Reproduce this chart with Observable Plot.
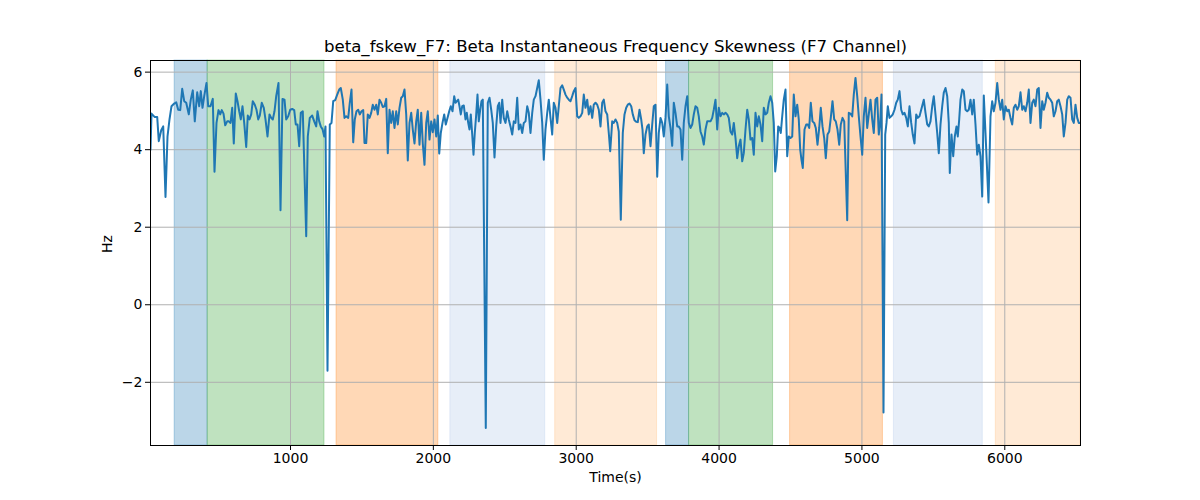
<!DOCTYPE html>
<html><head><meta charset="utf-8">
<script src="https://cdn.jsdelivr.net/npm/d3@7"></script>
<script src="https://cdn.jsdelivr.net/npm/@observablehq/plot@0.6"></script>
<style>body{margin:0;background:#fff} svg{font-family:"DejaVu Sans",sans-serif}</style>
</head><body><div id="chart"></div><script>
const chartTitle = "beta_fskew_F7: Beta Instantaneous Frequency Skewness (F7 Channel)";
const xLabel = "Time(s)";
const yLabel = "Hz";
const xTicks = [1000, 2000, 3000, 4000, 5000, 6000];
const yTicks = [-2, 0, 2, 4, 6];

const times = [20,27,50,67,78,95,109,125,139,153,167,186,200,214,228,242,256,270,288,302,316,330,347,361,372,384,396,412,424,440,456,468,482,496,508,519,531,543,557,568,580,592,603,617,629,641,652,664,676,690,701,713,725,736,750,762,774,785,799,813,825,839,853,865,876,888,900,916,930,944,958,970,984,998,1012,1026,1037,1049,1061,1072,1086,
1110,1121,1135,1152,1166,1180,1189,1201,1212,1224,1236,1245,1259,1275,1287,1299,1313,1327,1341,1352,1366,1378,1390,1404,1415,1427,1439,1450,1462,1474,1485,1497,1509,1518,1530,1541,1553,1565,1576,1588,1600,1611,1623,1635,1646,1658,1670,1681,1693,1705,1716,1728,1740,1751,1763,1775,1786,1798,1810,1821,1833,1845,1856,1868,1880,1891,1903,1915,1926,1938,1950,1961,1973,1985,1996,2008,2020,2031,2041,2052,2064,2076,2087,2099,2111,2122,2134,2146,
2155,2174,2183,2192,2202,2213,2225,2234,2244,2253,2262,2272,2281,2290,2300,2309,2318,2328,2337,2346,2367,2381,2393,2405,2416,2428,2440,2451,2461,2470,2482,2493,2505,2517,2528,2540,2552,2563,2575,2587,2598,2610,2622,2633,2645,2657,2668,2680,2692,2703,2715,2727,2738,2750,2762,2773,2785,2797,2808,2820,2832,2843,2855,2867,2878,2890,2902,2913,2925,2937,2948,2960,2972,2983,2995,3007,3018,3030,3042,3053,3065,3077,3088,3100,3112,3123,3135,3147,3158,3170,3182,3193,3205,3217,3228,3238,3252,3263,
3275,3287,3298,3312,3326,3338,3350,3361,3373,3385,3396,3408,3420,3431,3443,3455,3464,3473,3485,3497,3508,3520,3532,3543,3555,3567,3578,3590,3602,3613,3625,3637,3648,3660,3672,3683,3695,3707,3718,3730,3742,3753,3765,3777,3788,3800,3812,3823,3835,3847,3858,3870,3882,3893,3905,3917,3928,3940,3952,3963,3975,3987,3998,4010,4022,4033,4045,4057,4068,4080,4092,4103,4115,4127,4138,4150,4162,4173,4185,4197,4208,4220,4232,4243,4255,4267,4278,4290,4302,4313,4325,4337,4348,4360,4372,4383,4393,4404,4414,4423,4432,4442,4453,4465,4477,4488,4500,4512,4523,4535,4547,4558,4568,4577,4586,4598,4610,4621,4631,4642,4654,4666,4677,4689,4701,4712,4724,4736,4747,4759,4771,4782,4794,4806,4817,4829,4841,4852,4864,4876,4897,4908,4920,4932,4943,4955,4967,4978,4990,5002,5013,5025,5037,5048,5060,5072,5083,5095,5107,5118,5128,5137,5151,5163,5172,5181,5193,5205,5216,5228,5240,5251,5263,5275,5286,5298,5310,5321,5333,5345,5356,5368,5380,5391,5403,5415,
5433,5445,5457,5468,5480,5492,5503,5515,5527,5538,5550,5562,5573,5585,5597,5608,5615,5627,5639,5650,5662,5671,5681,5690,5702,5713,5725,5737,5748,5760,5772,5783,5795,5807,5818,5830,5842,5853,5865,5886,5900,5912,5923,5935,
5947,5958,5970,5982,5993,6005,6017,6028,6040,6052,6063,6075,6087,6098,6110,6122,6133,6145,6157,6168,6180,6192,6203,6215,6227,6238,6250,6262,6273,6285,6297,6308,6320,6332,6343,6355,6367,6378,6390,6402,6413,6425,6437,6448,6460,6472,6483,6495,6507,6518,6530];

const values = [4.0,4.93,4.84,4.84,4.22,4.5,4.6,2.78,4.34,4.78,5.12,5.19,5.22,5.03,5.02,5.57,5.25,5.21,4.91,5.29,5.53,4.73,5.48,5.12,5.51,5.08,5.38,5.72,5.12,5.12,5.31,3.43,4.69,5.02,4.91,5.02,4.93,4.63,4.73,4.73,4.69,5.08,4.16,5.45,5.25,4.99,4.78,5.12,4.69,4.07,4.88,4.78,4.91,5.25,5.16,5.03,4.78,4.88,5.21,5.08,4.78,4.34,4.91,4.82,4.78,4.99,5.38,5.72,2.44,5.31,5.29,4.78,4.86,5.03,5.05,5.02,4.65,4.65,4.09,4.95,4.99,
1.77,4.34,4.82,4.88,4.73,4.6,4.99,4.73,4.6,4.53,4.34,4.6,-1.7,4.65,4.69,5.25,5.28,5.42,5.55,5.59,5.29,4.82,4.86,4.82,5.21,5.55,4.19,4.78,4.99,5.03,4.91,4.99,5.02,4.17,4.17,4.91,4.82,4.95,5.16,5.03,5.16,4.91,5.29,5.21,5.1,5.12,5.31,3.91,5.03,4.69,4.99,4.56,4.99,4.65,5.08,5.34,5.38,5.55,4.91,3.72,4.69,4.95,4.52,4.16,4.73,5.03,4.13,4.95,4.16,3.61,4.69,4.99,4.26,4.73,4.45,4.78,4.34,4.88,3.9,4.43,4.69,4.91,4.65,4.82,4.99,5.12,4.99,5.38,
5.21,5.29,5.12,4.91,5.12,5.14,4.78,4.95,4.69,4.52,4.91,4.39,3.87,4.43,4.91,5.42,4.73,5.03,5.25,5.29,-3.18,5.21,5.34,5.03,4.69,3.8,4.6,5.12,5.21,4.69,5.29,4.82,4.69,4.99,4.78,4.6,4.39,4.73,4.69,5.34,4.52,4.65,4.43,4.69,4.73,5.12,4.95,4.43,4.95,5.29,5.38,5.59,5.79,5.29,4.69,3.74,4.52,4.95,5.29,4.82,4.39,5.21,5.08,4.69,5.12,5.59,5.66,5.55,5.42,5.34,5.29,5.25,5.38,5.51,5.59,4.86,4.82,4.86,4.95,5.42,5.08,5.29,4.91,5.12,4.82,5.16,5.21,5.16,5.03,4.6,5.21,5.29,4.99,4.91,4.43,3.96,4.73,4.69,
4.78,4.69,4.47,2.19,4.43,4.91,5.08,5.16,5.19,5.12,4.91,4.76,4.72,4.71,5.03,4.78,4.52,3.91,4.39,4.6,4.65,4.09,4.65,5.12,5.16,3.3,4.43,4.82,4.69,4.34,4.82,5.68,4.86,4.56,4.1,5.21,4.95,4.6,4.6,4.52,3.74,4.69,5.12,5.38,4.69,4.56,4.65,4.91,5.12,5.08,4.86,4.47,4.34,4.13,4.52,4.73,4.73,4.73,4.82,5.03,5.29,4.52,5.08,4.86,4.95,4.91,4.95,4.91,4.82,4.47,4.39,4.69,4.3,3.78,4.09,4.26,3.7,3.91,4.52,5.03,4.78,4.26,4.3,3.87,4.95,4.6,4.86,4.65,4.22,5.08,4.91,4.95,5.21,5.38,5.21,4.69,3.44,3.83,4.6,4.56,4.43,4.86,5.29,5.55,3.83,4.34,4.3,4.34,5.42,4.86,5.16,4.78,4.0,3.74,3.53,4.52,4.65,4.65,4.56,5.21,4.73,4.69,4.56,4.13,4.56,5.08,4.6,4.3,3.78,4.39,4.47,4.82,5.25,4.78,4.73,4.52,4.13,4.65,4.82,4.73,2.18,4.95,4.93,4.86,5.42,5.85,5.38,4.86,4.34,3.87,4.86,5.34,4.56,4.91,5.29,4.78,4.43,5.29,5.34,4.39,4.69,5.42,-2.78,4.39,4.69,5.12,4.82,4.86,4.91,5.03,5.21,5.29,5.51,5.03,4.91,4.95,4.82,4.6,5.12,4.69,4.39,4.16,4.91,4.82,4.86,5.03,
5.29,4.95,4.65,4.6,4.73,5.12,5.38,4.91,4.43,3.91,4.65,5.12,5.47,5.59,5.38,4.69,3.4,4.39,3.83,4.34,4.6,4.34,4.78,5.29,5.55,5.51,5.03,4.99,5.03,5.29,4.91,5.29,4.65,3.87,4.13,3.83,2.79,5.4,4.43,2.64,4.86,5.25,4.99,5.21,
5.72,5.29,5.03,5.29,4.78,5.12,4.99,5.03,4.82,4.65,5.08,5.16,5.03,5.12,5.48,5.03,5.12,4.99,5.21,5.55,4.69,5.21,5.29,5.12,5.55,5.59,4.56,5.25,5.03,5.21,5.47,5.34,5.29,5.21,4.86,4.99,5.25,5.29,5.12,4.91,4.34,4.69,5.29,5.38,5.34,4.78,4.69,5.16,4.82,4.69,4.69];

const spanStarts = [189, 420, 1322, 2119, 2853, 3629, 3790, 4497, 5224, 5937];
const spanEnds   = [420, 1238, 2035, 2783, 3566, 3790, 4378, 5147, 5846, 6530];
const spanColors = ["#1f77b4", "#2ca02c", "#ff7f0e", "#aec7e8", "#ffbb78", "#1f77b4", "#2ca02c", "#ff7f0e", "#aec7e8", "#ffbb78"];

const rows = times.map((t, i) => ({t, v: values[i]}));
const spans = spanStarts.map((s, i) => ({x1: s, x2: spanEnds[i], c: spanColors[i]}));
const fmt = d3.format("d");

const chart = Plot.plot({
  width: 1200, height: 500,
  marginLeft: 150, marginRight: 120, marginTop: 60, marginBottom: 55,
  style: {fontFamily: "DejaVu Sans, sans-serif", fontSize: "14px", background: "white", color: "black"},
  x: {domain: [20, 6530], label: null},
  y: {domain: [-3.63, 6.3], label: null},
  marks: [
    Plot.rect(spans, {x1: "x1", x2: "x2", fill: "c", fillOpacity: 0.3, stroke: "c", strokeOpacity: 0.3, strokeWidth: 1}),
    Plot.gridX(xTicks, {stroke: "#b0b0b0", strokeOpacity: 1, strokeWidth: 1}),
    Plot.gridY(yTicks, {stroke: "#b0b0b0", strokeOpacity: 1, strokeWidth: 1}),
    Plot.lineY(rows, {x: "t", y: "v", stroke: "#1f77b4", strokeWidth: 2, clip: true}),
    Plot.frame({stroke: "black", strokeWidth: 1}),
    Plot.axisX(xTicks, {tickFormat: fmt, tickSize: 5, tickPadding: 3, fontSize: 14, label: null}),
    Plot.axisY(yTicks, {tickFormat: fmt, tickSize: 5, tickPadding: 3, fontSize: 14, label: null}),
    Plot.text([chartTitle], {text: d => d, frameAnchor: "top", dy: -20, fontSize: 16.6, fill: "black"}),
    Plot.text([xLabel], {text: d => d, frameAnchor: "bottom", dy: 36, fontSize: 14, fill: "black"}),
    Plot.text([yLabel], {text: d => d, frameAnchor: "left", dx: -43, rotate: -90, fontSize: 14, fill: "black"})
  ]
});
document.getElementById("chart").appendChild(chart);
</script></body></html>
